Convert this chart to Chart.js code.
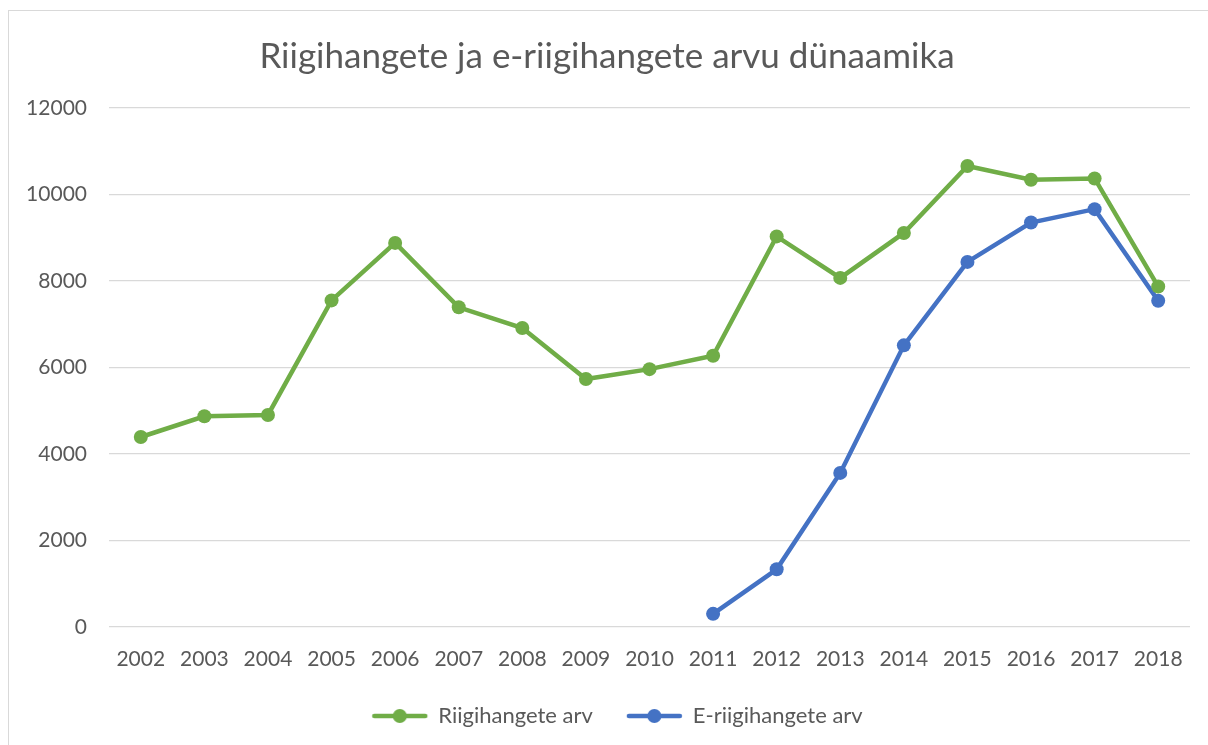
<!DOCTYPE html>
<html>
<head>
<meta charset="utf-8">
<script src="https://cdn.jsdelivr.net/npm/chart.js@4"></script>
<style>
  html, body { margin: 0; padding: 0; background: #fff; }
  #wrap { position: relative; width: 1208px; height: 745px; }
</style>
</head>
<body>
<div id="wrap"><canvas id="myChart"></canvas></div>
<script>
const years = ['2002', '2003', '2004', '2005', '2006', '2007', '2008', '2009', '2010',
               '2011', '2012', '2013', '2014', '2015', '2016', '2017', '2018'];
const riigihanked = [4390, 4870, 4900, 7550, 8880, 7390, 6910, 5730, 5960,
                     6270, 9030, 8070, 9110, 10660, 10340, 10370, 7870];
const eRiigihanked = [null, null, null, null, null, null, null, null, null,
                      300, 1330, 3560, 6510, 8440, 9350, 9660, 7540];
const yTicks = [0, 2000, 4000, 6000, 8000, 10000, 12000];

const GREEN = '#70AD47';
const BLUE = '#4472C4';
const TEXT = '#595959';
const FONT = 'Lato, "Open Sans", sans-serif';

// legend marker: line with a dot in the middle, like Excel.
// the canvas is wider than the legend box so the marker sits close to the text
function legendMarker(color) {
    const c = document.createElement('canvas');
    c.width = 90;
    c.height = 16;
    const ctx = c.getContext('2d');
    ctx.strokeStyle = color;
    ctx.lineWidth = 4.5;
    ctx.lineCap = 'round';
    ctx.beginPath();
    ctx.moveTo(30, 8);
    ctx.lineTo(81, 8);
    ctx.stroke();
    ctx.fillStyle = color;
    ctx.beginPath();
    ctx.arc(55.5, 8, 7, 0, Math.PI * 2);
    ctx.fill();
    return c;
}

const frame = {
    id: 'frame',
    beforeDraw(chart) {
        const ctx = chart.ctx;
        ctx.save();
        ctx.fillStyle = '#fff';
        ctx.fillRect(0, 0, chart.width, chart.height);
        ctx.strokeStyle = '#d9d9d9';
        ctx.lineWidth = 1;
        ctx.strokeRect(8.5, 10.5, chart.width + 20, chart.height + 20);
        ctx.restore();
    }
};

new Chart(document.getElementById('myChart').getContext('2d'), {
    type: 'line',
    data: {
        labels: years,
        datasets: [{
            label: 'Riigihangete arv',
            data: riigihanked,
            borderColor: GREEN,
            backgroundColor: GREEN,
            borderWidth: 4.5,
            pointRadius: 7,
            pointHoverRadius: 7,
            pointBorderWidth: 0,
            fill: false,
            tension: 0
        }, {
            label: 'E-riigihangete arv',
            data: eRiigihanked,
            borderColor: BLUE,
            backgroundColor: BLUE,
            borderWidth: 4.5,
            pointRadius: 7,
            pointHoverRadius: 7,
            pointBorderWidth: 0,
            fill: false,
            tension: 0
        }]
    },
    options: {
        responsive: true,
        maintainAspectRatio: false,
        animation: false,
        layout: { padding: { top: 32, left: 24, right: 18, bottom: 8 } },
        plugins: {
            title: {
                display: true,
                text: 'Riigihangete ja e-riigihangete arvu dünaamika',
                color: TEXT,
                font: { family: FONT, size: 35, weight: 'normal' },
                padding: { top: 4, bottom: 30 }
            },
            legend: {
                position: 'bottom',
                labels: {
                    color: TEXT,
                    font: { family: FONT, size: 22 },
                    usePointStyle: true,
                    pointStyleWidth: 76,
                    padding: 13,
                    generateLabels(chart) {
                        const items = Chart.defaults.plugins.legend.labels.generateLabels(chart);
                        items.forEach((it, i) => {
                            it.pointStyle = legendMarker(i === 0 ? GREEN : BLUE);
                        });
                        return items;
                    }
                }
            },
            tooltip: { enabled: false }
        },
        scales: {
            x: {
                offset: true,
                grid: { display: false, drawTicks: false },
                border: { display: false },
                ticks: { color: TEXT, font: { family: FONT, size: 21 }, padding: 20, maxRotation: 0 }
            },
            y: {
                min: 0,
                max: 12000,
                afterBuildTicks(axis) {
                    axis.ticks = yTicks.map(v => ({ value: v }));
                },
                afterFit(axis) {
                    axis.width = 85;
                },
                grid: { color: '#d9d9d9', lineWidth: 1.3, drawTicks: false },
                border: { display: false },
                ticks: {
                    color: TEXT,
                    font: { family: FONT, size: 21 },
                    padding: 22,
                    callback: v => String(v)
                }
            }
        }
    },
    plugins: [frame]
});
</script>
</body>
</html>
